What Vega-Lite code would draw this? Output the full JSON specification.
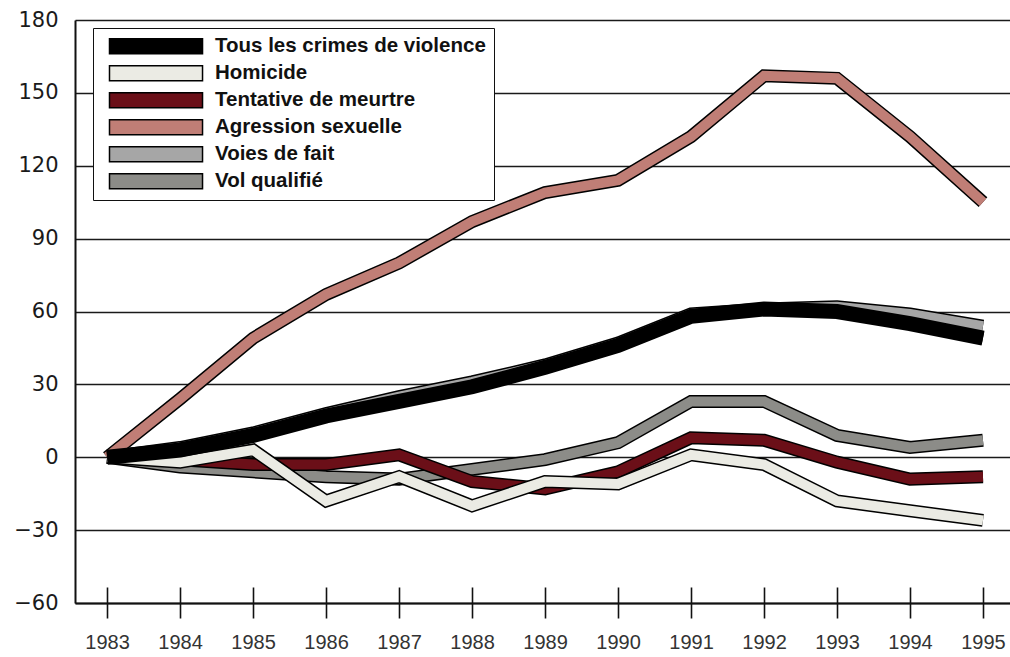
{
  "$schema": "https://vega.github.io/schema/vega-lite/v6.json",
  "width": 935,
  "height": 583,
  "autosize": {"type": "none"},
  "padding": {"left": 75, "top": 20, "right": 0, "bottom": 54},
  "background": "white",
  "config": {
    "view": {"stroke": null},
    "font": "Liberation Sans"
  },
  "data": {
    "values": [
      {"yr": 1983, "s": "Tous les crimes de violence", "v": 0},
      {"yr": 1984, "s": "Tous les crimes de violence", "v": 3},
      {"yr": 1985, "s": "Tous les crimes de violence", "v": 9},
      {"yr": 1986, "s": "Tous les crimes de violence", "v": 17},
      {"yr": 1987, "s": "Tous les crimes de violence", "v": 23},
      {"yr": 1988, "s": "Tous les crimes de violence", "v": 29},
      {"yr": 1989, "s": "Tous les crimes de violence", "v": 37},
      {"yr": 1990, "s": "Tous les crimes de violence", "v": 46},
      {"yr": 1991, "s": "Tous les crimes de violence", "v": 58},
      {"yr": 1992, "s": "Tous les crimes de violence", "v": 61},
      {"yr": 1993, "s": "Tous les crimes de violence", "v": 60},
      {"yr": 1994, "s": "Tous les crimes de violence", "v": 55},
      {"yr": 1995, "s": "Tous les crimes de violence", "v": 49},
      {"yr": 1983, "s": "Homicide", "v": 0},
      {"yr": 1984, "s": "Homicide", "v": -2},
      {"yr": 1985, "s": "Homicide", "v": 3},
      {"yr": 1986, "s": "Homicide", "v": -18},
      {"yr": 1987, "s": "Homicide", "v": -8},
      {"yr": 1988, "s": "Homicide", "v": -20},
      {"yr": 1989, "s": "Homicide", "v": -10},
      {"yr": 1990, "s": "Homicide", "v": -11},
      {"yr": 1991, "s": "Homicide", "v": 1},
      {"yr": 1992, "s": "Homicide", "v": -3},
      {"yr": 1993, "s": "Homicide", "v": -18},
      {"yr": 1994, "s": "Homicide", "v": -22},
      {"yr": 1995, "s": "Homicide", "v": -26},
      {"yr": 1983, "s": "Tentative de meurtre", "v": 0},
      {"yr": 1984, "s": "Tentative de meurtre", "v": -1},
      {"yr": 1985, "s": "Tentative de meurtre", "v": -3},
      {"yr": 1986, "s": "Tentative de meurtre", "v": -3},
      {"yr": 1987, "s": "Tentative de meurtre", "v": 1},
      {"yr": 1988, "s": "Tentative de meurtre", "v": -10},
      {"yr": 1989, "s": "Tentative de meurtre", "v": -13},
      {"yr": 1990, "s": "Tentative de meurtre", "v": -6},
      {"yr": 1991, "s": "Tentative de meurtre", "v": 8},
      {"yr": 1992, "s": "Tentative de meurtre", "v": 7},
      {"yr": 1993, "s": "Tentative de meurtre", "v": -2},
      {"yr": 1994, "s": "Tentative de meurtre", "v": -9},
      {"yr": 1995, "s": "Tentative de meurtre", "v": -8},
      {"yr": 1983, "s": "Agression sexuelle", "v": 0},
      {"yr": 1984, "s": "Agression sexuelle", "v": 24},
      {"yr": 1985, "s": "Agression sexuelle", "v": 49},
      {"yr": 1986, "s": "Agression sexuelle", "v": 67},
      {"yr": 1987, "s": "Agression sexuelle", "v": 80},
      {"yr": 1988, "s": "Agression sexuelle", "v": 97},
      {"yr": 1989, "s": "Agression sexuelle", "v": 109},
      {"yr": 1990, "s": "Agression sexuelle", "v": 114},
      {"yr": 1991, "s": "Agression sexuelle", "v": 132},
      {"yr": 1992, "s": "Agression sexuelle", "v": 157},
      {"yr": 1993, "s": "Agression sexuelle", "v": 156},
      {"yr": 1994, "s": "Agression sexuelle", "v": 132},
      {"yr": 1995, "s": "Agression sexuelle", "v": 105},
      {"yr": 1983, "s": "Voies de fait", "v": 0},
      {"yr": 1984, "s": "Voies de fait", "v": 4},
      {"yr": 1985, "s": "Voies de fait", "v": 10},
      {"yr": 1986, "s": "Voies de fait", "v": 18},
      {"yr": 1987, "s": "Voies de fait", "v": 25},
      {"yr": 1988, "s": "Voies de fait", "v": 31},
      {"yr": 1989, "s": "Voies de fait", "v": 38},
      {"yr": 1990, "s": "Voies de fait", "v": 47},
      {"yr": 1991, "s": "Voies de fait", "v": 59},
      {"yr": 1992, "s": "Voies de fait", "v": 61},
      {"yr": 1993, "s": "Voies de fait", "v": 62},
      {"yr": 1994, "s": "Voies de fait", "v": 59},
      {"yr": 1995, "s": "Voies de fait", "v": 54},
      {"yr": 1983, "s": "Vol qualifié", "v": 0},
      {"yr": 1984, "s": "Vol qualifié", "v": -4},
      {"yr": 1985, "s": "Vol qualifié", "v": -6},
      {"yr": 1986, "s": "Vol qualifié", "v": -8},
      {"yr": 1987, "s": "Vol qualifié", "v": -9},
      {"yr": 1988, "s": "Vol qualifié", "v": -5},
      {"yr": 1989, "s": "Vol qualifié", "v": -1},
      {"yr": 1990, "s": "Vol qualifié", "v": 6},
      {"yr": 1991, "s": "Vol qualifié", "v": 23},
      {"yr": 1992, "s": "Vol qualifié", "v": 23},
      {"yr": 1993, "s": "Vol qualifié", "v": 9},
      {"yr": 1994, "s": "Vol qualifié", "v": 4},
      {"yr": 1995, "s": "Vol qualifié", "v": 7}
    ]
  },
  "encoding": {
    "x": {
      "field": "yr", "type": "quantitative",
      "scale": {"domain": [1982.56, 1995.37], "nice": false, "zero": false},
      "axis": null
    },
    "y": {
      "field": "v", "type": "quantitative",
      "scale": {"domain": [-60, 180], "nice": false, "zero": false},
      "axis": {
        "title": null,
        "values": [-60, -30, 0, 30, 60, 90, 120, 150, 180],
        "ticks": false,
        "labelPadding": 17,
        "labelFontSize": 21,
        "labelColor": "#1a1a1a",
        "labelFont": "DejaVu Sans",
        "domainColor": "#111111",
        "domainWidth": 2,
        "grid": true,
        "gridColor": "#1a1a1a",
        "gridWidth": 1.6
      }
    },
    "color": {
      "field": "s", "type": "nominal",
      "scale": {
        "domain": ["Vol qualifié", "Voies de fait", "Agression sexuelle", "Tentative de meurtre", "Homicide", "Tous les crimes de violence"],
        "range": ["#8c8c88", "#a6a6a6", "#c07e76", "#6b0f18", "#ebebe4", "#000000"]
      },
      "legend": null
    }
  },
  "resolve": {"axis": {"x": "independent"}},
  "layer": [
    {"transform": [{"filter": "datum.s === 'Vol qualifié'"}], "mark": {"type": "line", "strokeWidth": 13}, "encoding": {"color": {"value": "black"}}},
    {"transform": [{"filter": "datum.s === 'Vol qualifié'"}], "mark": {"type": "line", "strokeWidth": 10}},
    {"transform": [{"filter": "datum.s === 'Voies de fait'"}], "mark": {"type": "line", "strokeWidth": 13}, "encoding": {"color": {"value": "black"}}},
    {"transform": [{"filter": "datum.s === 'Voies de fait'"}], "mark": {"type": "line", "strokeWidth": 10}},
    {"transform": [{"filter": "datum.s === 'Agression sexuelle'"}], "mark": {"type": "line", "strokeWidth": 13}, "encoding": {"color": {"value": "black"}}},
    {"transform": [{"filter": "datum.s === 'Agression sexuelle'"}], "mark": {"type": "line", "strokeWidth": 10}},
    {"transform": [{"filter": "datum.s === 'Tentative de meurtre'"}], "mark": {"type": "line", "strokeWidth": 13}, "encoding": {"color": {"value": "black"}}},
    {"transform": [{"filter": "datum.s === 'Tentative de meurtre'"}], "mark": {"type": "line", "strokeWidth": 10}},
    {"transform": [{"filter": "datum.s === 'Homicide'"}], "mark": {"type": "line", "strokeWidth": 13}, "encoding": {"color": {"value": "black"}}},
    {"transform": [{"filter": "datum.s === 'Homicide'"}], "mark": {"type": "line", "strokeWidth": 10}},
    {
      "transform": [{"filter": "datum.s === 'Tous les crimes de violence'"}],
      "mark": {"type": "line", "strokeWidth": 15},
      "encoding": {
        "color": {"value": "black"},
        "x": {
          "field": "yr", "type": "quantitative",
          "axis": {
            "orient": "bottom",
            "title": null,
            "values": [1983, 1984, 1985, 1986, 1987, 1988, 1989, 1990, 1991, 1992, 1993, 1994, 1995],
            "labels": false,
            "domain": false,
            "grid": false,
            "tickSize": -16,
            "tickWidth": 1.6,
            "tickColor": "#111111"
          }
        }
      }
    },
    {
      "transform": [{"filter": "datum.s === 'Tous les crimes de violence'"}],
      "mark": {"type": "line", "strokeWidth": 13},
      "encoding": {
        "x": {
          "field": "yr", "type": "quantitative",
          "axis": {
            "orient": "bottom",
            "title": null,
            "values": [1983, 1984, 1985, 1986, 1987, 1988, 1989, 1990, 1991, 1992, 1993, 1994, 1995],
            "format": "d",
            "labelFontSize": 20,
            "labelFont": "Liberation Sans",
            "labelColor": "#333333",
            "labelPadding": 14,
            "grid": false,
            "tickSize": 15,
            "tickWidth": 1.6,
            "tickColor": "#111111",
            "domainColor": "#111111",
            "domainWidth": 2
          }
        }
      }
    },
    {
      "transform": [{"filter": "false"}],
      "mark": {"type": "point", "filled": true, "opacity": 1},
      "encoding": {
        "color": {"value": "black"},
        "fill": {
          "field": "s", "type": "nominal",
          "scale": {
            "domain": ["Tous les crimes de violence", "Homicide", "Tentative de meurtre", "Agression sexuelle", "Voies de fait", "Vol qualifié"],
            "range": ["#000000", "#ebebe4", "#6b0f18", "#c07e76", "#a6a6a6", "#8c8c88"]
          },
          "legend": {
            "title": null,
            "orient": "none",
            "legendX": 18,
            "legendY": 8,
            "direction": "vertical",
            "padding": 8,
            "strokeColor": "#111111",
            "fillColor": "white",
            "symbolType": "M-0.219,-0.94L11.41,-0.94L11.41,0.94L-0.219,0.94Z",
            "symbolSize": 256,
            "symbolStrokeColor": "black",
            "symbolStrokeWidth": 1.5,
            "symbolOpacity": 1,
            "labelFont": "Liberation Sans",
            "labelFontSize": 20.5,
            "labelFontWeight": "bold",
            "labelColor": "#111111",
            "labelOffset": 93.5,
            "labelLimit": 400,
            "rowPadding": 5,
            "encode": {
              "symbols": {
                "update": {
                  "stroke": {"value": "black"},
                  "strokeWidth": {"value": 1.5},
                  "opacity": {"value": 1}
                }
              }
            }
          }
        }
      }
    }
  ]
}
